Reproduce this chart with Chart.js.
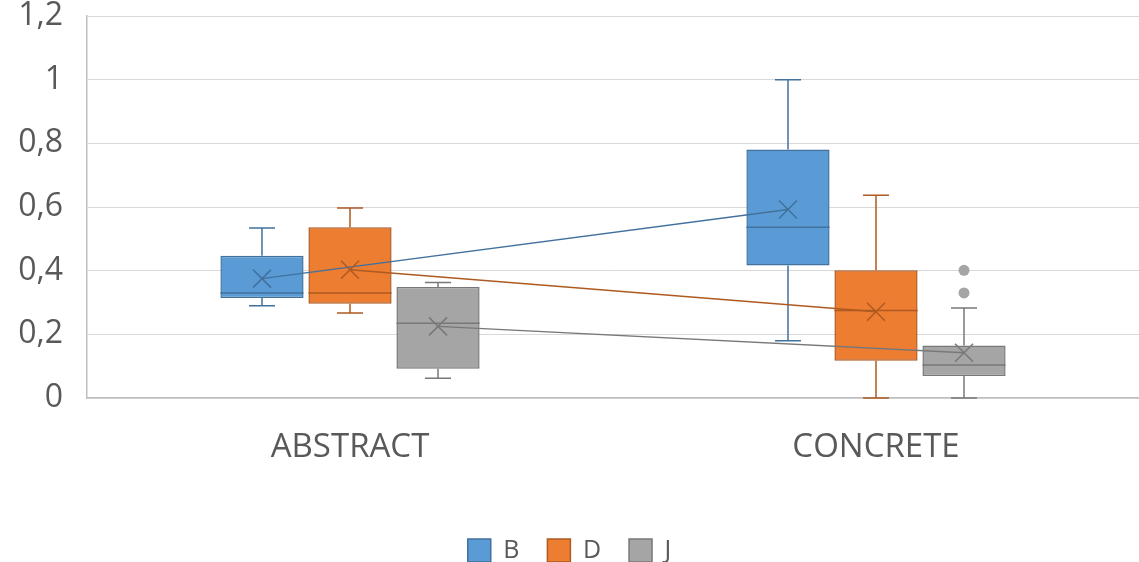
<!DOCTYPE html>
<html>
<head>
<meta charset="utf-8">
<script src="https://cdn.jsdelivr.net/npm/chart.js@4.4.1/dist/chart.umd.min.js"></script>
<style>
  html, body { margin: 0; padding: 0; background: #ffffff; }
  #wrap { width: 1139px; height: 562px; }
</style>
</head>
<body>
<div id="wrap"><canvas id="c" width="1139" height="562"></canvas></div>
<script>
// Categories and tick labels
const categories = ['ABSTRACT', 'CONCRETE'];
const yTickLabels = ['0', '0,2', '0,4', '0,6', '0,8', '1', '1,2'];

// Series B
const bMin    = [0.29, 0.18];
const bQ1     = [0.314, 0.416];
const bMedian = [0.33, 0.536];
const bQ3     = [0.447, 0.781];
const bMax    = [0.534, 1.0];
const bMean   = [0.375, 0.592];
const bOut    = [[], []];

// Series D
const dMin    = [0.267, 0];
const dQ1     = [0.296, 0.117];
const dMedian = [0.33, 0.275];
const dQ3     = [0.536, 0.401];
const dMax    = [0.597, 0.637];
const dMean   = [0.403, 0.271];
const dOut    = [[], []];

// Series J
const jMin    = [0.062, 0];
const jQ1     = [0.092, 0.069];
const jMedian = [0.235, 0.104];
const jQ3     = [0.349, 0.165];
const jMax    = [0.363, 0.283];
const jMean   = [0.225, 0.142];
const jOut    = [[], [0.33, 0.401]];

const FONT = '"Open Sans", "Noto Sans", sans-serif';
const TEXT = '#595959';

function series(label, fill, stroke, min, q1, med, q3, max, mean, out) {
  return {
    label: label,
    data: q1.map((v, i) => [v, q3[i]]),
    backgroundColor: fill,
    borderColor: stroke,
    borderWidth: 1.5,
    borderSkipped: false,
    stats: { min, med, max, mean, out }
  };
}

const datasets = [
  series('B', '#5B9BD5', '#41719C', bMin, bQ1, bMedian, bQ3, bMax, bMean, bOut),
  series('D', '#ED7D31', '#AE5A21', dMin, dQ1, dMedian, dQ3, dMax, dMean, dOut),
  series('J', '#A5A5A5', '#787878', jMin, jQ1, jMedian, jQ3, jMax, jMean, jOut)
];

// Fixed legend band height at the bottom
const legendBand = {
  id: 'legendBand',
  beforeLayout(chart) {
    const lg = chart.legend;
    if (lg && !lg._bandFixed) {
      const fit = lg.fit;
      lg.fit = function () { fit.call(this); this.height = 52; };
      lg._bandFixed = true;
    }
  }
};

// Whiskers, medians, mean markers, outliers and mean connecting lines
const boxExtras = {
  id: 'boxExtras',
  afterDatasetsDraw(chart) {
    const ctx = chart.ctx;
    const y = chart.scales.y;
    chart.data.datasets.forEach((ds, di) => {
      const meta = chart.getDatasetMeta(di);
      if (meta.hidden) return;
      const st = ds.stats;
      ctx.save();
      ctx.strokeStyle = ds.borderColor;
      ctx.lineWidth = 1.5;
      meta.data.forEach((el, i) => {
        const x = el.x;
        const half = el.width / 2;
        const cap = 13;
        const q1 = y.getPixelForValue(ds.data[i][0]);
        const q3 = y.getPixelForValue(ds.data[i][1]);
        const mn = y.getPixelForValue(st.min[i]);
        const mx = y.getPixelForValue(st.max[i]);
        const md = y.getPixelForValue(st.med[i]);
        ctx.beginPath();
        // upper whisker
        ctx.moveTo(x, q3); ctx.lineTo(x, mx);
        ctx.moveTo(x - cap, mx); ctx.lineTo(x + cap, mx);
        // lower whisker
        ctx.moveTo(x, q1); ctx.lineTo(x, mn);
        ctx.moveTo(x - cap, mn); ctx.lineTo(x + cap, mn);
        // median
        ctx.moveTo(x - half, md); ctx.lineTo(x + half, md);
        ctx.stroke();
        // mean marker
        const my = y.getPixelForValue(st.mean[i]);
        const s = 9;
        ctx.beginPath();
        ctx.moveTo(x - s, my - s); ctx.lineTo(x + s, my + s);
        ctx.moveTo(x + s, my - s); ctx.lineTo(x - s, my + s);
        ctx.stroke();
        // outliers
        ctx.fillStyle = ds.backgroundColor;
        st.out[i].forEach(v => {
          ctx.beginPath();
          ctx.arc(x, y.getPixelForValue(v), 5.5, 0, Math.PI * 2);
          ctx.fill();
        });
      });
      // line joining the means
      ctx.beginPath();
      meta.data.forEach((el, i) => {
        const my = y.getPixelForValue(st.mean[i]);
        if (i === 0) ctx.moveTo(el.x, my); else ctx.lineTo(el.x, my);
      });
      ctx.lineWidth = 1.5;
      ctx.stroke();
      ctx.restore();
    });
  }
};

new Chart(document.getElementById('c'), {
  type: 'bar',
  data: { labels: categories, datasets: datasets },
  plugins: [legendBand, boxExtras],
  options: {
    responsive: false,
    animation: false,
    events: [],
    layout: { padding: { left: 0, right: 0, top: 0, bottom: 0 } },
    datasets: { bar: { categoryPercentage: 0.502, barPercentage: 0.945 } },
    scales: {
      x: {
        grid: { display: false },
        border: { display: true, color: '#BFBFBF', width: 1.5 },
        ticks: { color: TEXT, font: { family: FONT, size: 33 }, padding: 22 },
        afterFit: (scale) => { scale.height = 112; }
      },
      y: {
        min: 0, max: 1.2,
        ticks: {
          stepSize: 0.2,
          color: TEXT,
          font: { family: FONT, size: 32, lineHeight: 1 },
          padding: 24,
          callback: (v, i) => yTickLabels[i]
        },
        grid: { color: '#D9D9D9', lineWidth: 1, drawTicks: false },
        border: { display: true, color: '#BFBFBF', width: 1.5 },
        afterFit: (scale) => {
          scale.width = 87;
          scale.paddingTop = 16;
          scale.paddingBottom = 0;
        }
      }
    },
    plugins: {
      tooltip: { enabled: false },
      legend: {
        position: 'bottom',
        labels: {
          color: TEXT,
          font: { family: FONT, size: 25 },
          boxWidth: 23,
          boxHeight: 23,
          padding: 28,
          useBorderRadius: false
        }
      }
    }
  }
});
</script>
</body>
</html>
